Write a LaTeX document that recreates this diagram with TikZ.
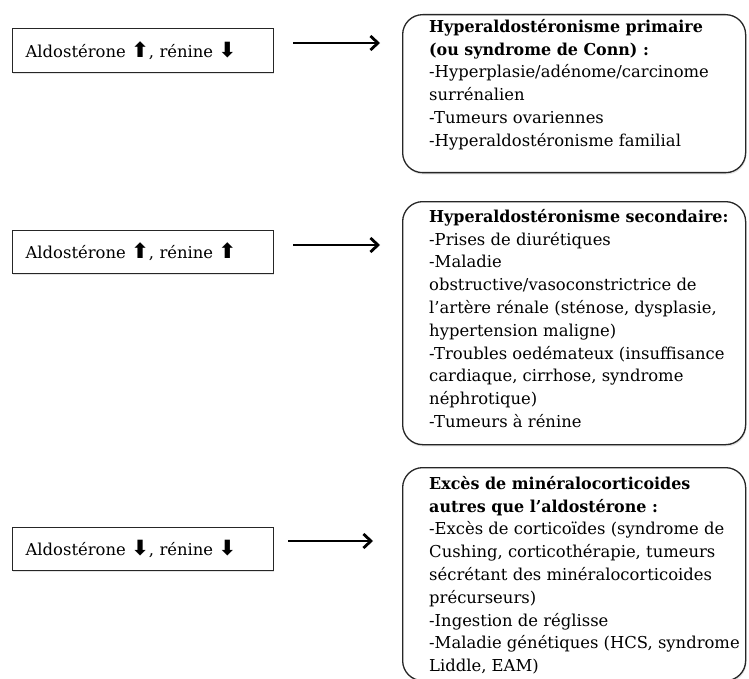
\documentclass[tikz,border=0pt]{standalone}
\usepackage{fontspec}
\setmainfont{DejaVu Serif}[BoldFeatures={FakeStretch=0.97}]
\newfontfamily\symfnt{DejaVu Sans}
\usetikzlibrary{arrows.meta,shadows}
\newcommand{\UpArr}{{\symfnt\bfseries\fontsize{21}{21}\selectfont ⬆}}
\newcommand{\DnArr}{{\symfnt\bfseries\fontsize{21}{21}\selectfont ⬇}}
\begin{document}
\begin{tikzpicture}[x=1pt,y=-1pt,
  txt/.style={font=\fontsize{16.4}{22.8}\selectfont},
  lbox/.style={draw=black!85, line width=1.3pt, fill=white, anchor=north west,
    minimum width=261pt, minimum height=44pt, text width=235pt, inner xsep=13pt,
    align=left, txt,
    drop shadow={shadow xshift=0.8pt, shadow yshift=-1.8pt, opacity=0.22}},
  rbox/.style={draw=black!85, line width=1.3pt, fill=white, rounded corners=20pt,
    anchor=north west, minimum width=343pt, inner sep=0pt,
    drop shadow={shadow xshift=0.8pt, shadow yshift=-1.8pt, opacity=0.22}},
  rtext/.style={anchor=north west, inner sep=0pt, align=left, txt},
  conn/.style={line width=2.8pt, -{Straight Barb[length=7.5pt,width=14pt]}}
]
\useasboundingbox (0,0) rectangle (749,679);
\clip (0,0) rectangle (749,679);

% left boxes
\node[lbox] (L1) at (12,28) {Aldostérone \UpArr, rénine \DnArr};
\node[lbox, minimum height=43pt] (L2) at (12,230) {Aldostérone \UpArr, rénine \UpArr};
\node[lbox, minimum height=43pt] (L3) at (12,527) {Aldostérone \DnArr, rénine \DnArr};

% right boxes
\node[rbox, minimum height=158pt] (R1) at (402,14) {};
\node[rbox, minimum height=243pt] (R2) at (402,201) {};
\node[rbox, minimum height=213pt] (R3) at (402,467) {};

\node[rtext] (T1) at (429,19) {\textbf{Hyperaldostéronisme primaire}\\
\textbf{(ou syndrome de Conn) :}\\
-Hyperplasie/adénome/carcinome\\
surrénalien\\
-Tumeurs ovariennes\\
-Hyperaldostéronisme familial};

\node[rtext] (T2) at (429,209) {\textbf{Hyperaldostéronisme secondaire:}\\
-Prises de diurétiques\\
-Maladie\\
obstructive/vasoconstrictrice de\\
l’artère rénale (sténose, dysplasie,\\
hypertension maligne)\\
-Troubles oedémateux (insuffisance\\
cardiaque, cirrhose, syndrome\\
néphrotique)\\
-Tumeurs à rénine};

\node[rtext] (T3) at (429,476) {\textbf{Excès de minéralocorticoides}\\
\textbf{autres que l’aldostérone :}\\
-Excès de corticoïdes (syndrome de\\
Cushing, corticothérapie, tumeurs\\
sécrétant des minéralocorticoides\\
précurseurs)\\
-Ingestion de réglisse\\
-Maladie génétiques (HCS, syndrome\\
Liddle, EAM)};

% connectors
\coordinate (a1s) at (293,43);
\coordinate (a1e) at (380,43);
\coordinate (a2s) at (293,245);
\coordinate (a2e) at (380,245);
\coordinate (a3s) at (288,541);
\coordinate (a3e) at (373,541);
\draw[conn] (a1s) -- (a1e);
\draw[conn] (a2s) -- (a2e);
\draw[conn] (a3s) -- (a3e);
\end{tikzpicture}
\end{document}
